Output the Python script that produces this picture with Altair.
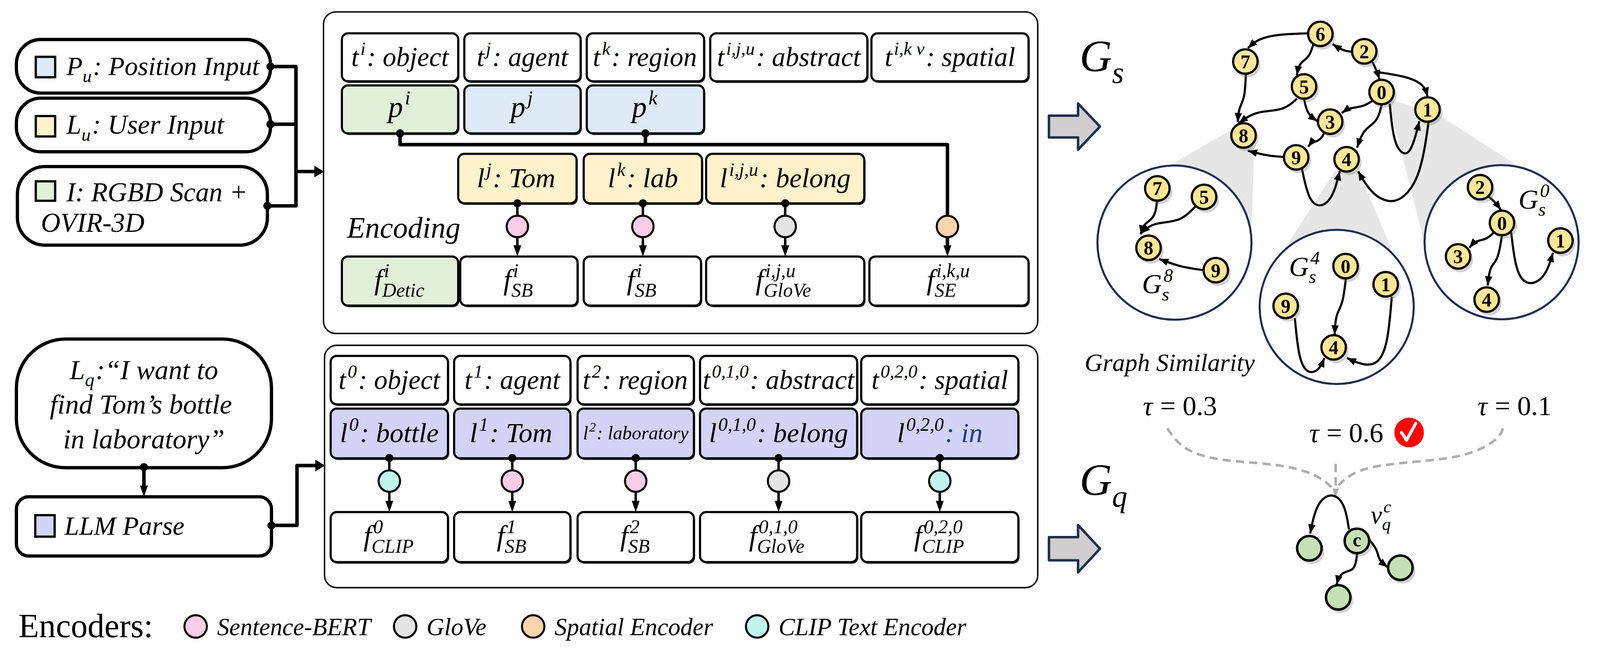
import altair as alt
import numpy as np
import pandas as pd

K = 4207 / 1568          # one layout unit -> screen pixels
FONT = "Liberation Serif"

# ---------------- labels and values ----------------
input_labels = ["P_{u}: Position Input", "L_{u}: User Input", "I: RGBD Scan +", "OVIR-3D"]
input_colors = ["#deebf7", "#fff2cc", "#e2f0d9"]
query_text = ["L_{q}:“I want to", "find Tom’s bottle", "in laboratory”"]
parse_label = "LLM Parse"
parse_color = "#d3d3f8"

user_types = ["t^{i}: object", "t^{j}: agent", "t^{k}: region", "t^{i,j,u}: abstract", "t^{i,k v}: spatial"]
user_pos = ["p^{i}", "p^{j}", "p^{k}"]
user_pos_fill = ["#e2f0d9", "#deebf7", "#deebf7"]
user_lang = ["l^{j}: Tom", "l^{k}: lab", "l^{i,j,u}: belong"]
user_lang_fill = "#fff2cc"
user_feat = ["f^{i}_{Detic}", "f^{i}_{SB}", "f^{i}_{SB}", "f^{i,j,u}_{GloVe}", "f^{i,k,u}_{SE}"]
user_feat_fill = ["#e2f0d9", "white", "white", "white", "white"]
user_enc = ["Sentence-BERT", "Sentence-BERT", "GloVe", "Spatial Encoder"]

query_types = ["t^{0}: object", "t^{1}: agent", "t^{2}: region", "t^{0,1,0}: abstract", "t^{0,2,0}: spatial"]
query_lang = ["l^{0}: bottle", "l^{1}: Tom", "l^{2}: laboratory", "l^{0,1,0}: belong", "l^{0,2,0}|: in"]
query_feat = ["f^{0}_{CLIP}", "f^{1}_{SB}", "f^{2}_{SB}", "f^{0,1,0}_{GloVe}", "f^{0,2,0}_{CLIP}"]
query_enc = ["CLIP Text Encoder", "Sentence-BERT", "Sentence-BERT", "GloVe", "CLIP Text Encoder"]

encoders = ["Sentence-BERT", "GloVe", "Spatial Encoder", "CLIP Text Encoder"]
encoder_colors = ["#f9cde5", "#e4e4e4", "#fbd4ae", "#c2f4ee"]
enc_color = dict(zip(encoders, encoder_colors))

scene_edges = [("6", "7"), ("2", "6"), ("6", "5"), ("2", "0"), ("2", "1"), ("7", "8"), ("5", "8"),
               ("5", "3"), ("0", "3"), ("0", "4"), ("0", "1"), ("3", "9"), ("9", "8"), ("9", "4"), ("1", "4")]
sub8_edges = [("7", "8"), ("5", "8"), ("9", "8")]
sub4_edges = [("0", "4"), ("9", "4"), ("1", "4")]
sub0_edges = [("2", "0"), ("0", "3"), ("0", "4"), ("0", "1")]
query_nodes = ["c", "a", "b", "d"]
query_node_text = ["c", "", "", ""]
query_edges = [("c", "a"), ("c", "b"), ("c", "d")]
tau_values = ["0.3", "0.6", "0.1"]
sub_names = ["G_{s}^{8}", "G_{s}^{4}", "G_{s}^{0}"]

# ---------------- layout (layout units, y grows downwards) ----------------
TOP_COLS = [(335, 449), (455, 569), (575, 690), (696, 850), (854, 1008)]
TOP_LCOLS = [(449, 565), (572, 688), (692, 847)]
TOP_FCOLS = [(335, 449), (451, 566), (572, 687), (692, 847), (852, 1008)]
TOP_ROWS = {"t": (24, 71), "p": (75, 122), "l": (142, 190.5), "f": (242.6, 290.7)}
BOT_COLS = [(324, 439), (445, 559), (566, 680), (686, 840), (844, 998)]
BOT_ROWS = {"t": (340, 387.5), "l": (391.6, 440.3), "f": (493, 542)}
ENC_Y_TOP, ENC_Y_BOT = 213.2, 462.6
TOP_ENC_X = [507, 630, 769.5, 928.5]

scene_pos = {"6": (1294, 24.5), "2": (1337, 41.6), "7": (1220.5, 51.6), "5": (1278, 76),
             "0": (1354, 81.5), "1": (1399, 98.6), "3": (1303.6, 110.5), "8": (1218.7, 124),
             "9": (1270.3, 145.5), "4": (1319.7, 147.4)}
scene_route = {
    ("6", "7"): [(1282, 24), (1250, 25), (1232, 30), (1223, 38.5)],
    ("2", "6"): [(1325, 42), (1316, 41), (1306, 34.5)],
    ("6", "5"): [(1287, 35), (1283, 48), (1273, 53), (1271, 65)],
    ("2", "0"): [(1345, 52), (1349, 60), (1352, 69)],
    ("2", "1"): [(1350, 62), (1378, 66), (1396, 74), (1399, 86)],
    ("7", "8"): [(1221, 63), (1220, 88), (1214, 97), (1213, 111)],
    ("5", "8"): [(1271, 88), (1258, 100), (1230, 100), (1214, 112)],
    ("5", "3"): [(1278, 88), (1281, 103), (1291, 110)],
    ("0", "3"): [(1345, 90), (1336, 96), (1322, 97), (1315, 102)],
    ("0", "4"): [(1354, 94), (1350, 111), (1336, 118), (1330, 136)],
    ("0", "1"): [(1362, 93), (1366, 135), (1379, 146), (1386, 130), (1391, 110)],
    ("3", "9"): [(1298, 121), (1294, 129), (1285, 131), (1282, 135)],
    ("9", "8"): [(1258, 145), (1242, 144), (1223, 139)],
    ("9", "4"): [(1276, 157), (1283, 190), (1296, 195), (1307, 183), (1313, 159)],
    ("1", "4"): [(1400, 111), (1392, 168), (1368, 194), (1344, 182), (1331, 159)],
}
sub8_pos = {"7": (1134.2, 175.9), "5": (1180, 184.2), "8": (1125.6, 234.1), "9": (1191.5, 256)}
sub8_route = {("7", "8"): [(1134, 188), (1132, 205), (1120, 211), (1118, 221)],
              ("5", "8"): [(1172, 193), (1157, 209), (1130, 209), (1118, 220)],
              ("9", "8"): [(1180, 256), (1157, 253), (1136, 245)]}
sub4_pos = {"0": (1318.7, 252), "1": (1358, 269.8), "9": (1260, 291), "4": (1307, 331.6)}
sub4_route = {("0", "4"): [(1319, 264), (1316, 290), (1309, 299), (1308, 319)],
              ("9", "4"): [(1269, 303), (1273, 345), (1282, 358), (1293, 354), (1298, 342)],
              ("1", "4"): [(1364, 282), (1360, 330), (1350, 349), (1335, 349), (1320, 342)]}
sub0_pos = {"2": (1450.5, 174.7), "0": (1472, 209.7), "1": (1529.3, 227), "3": (1429, 242.5), "4": (1457, 284.8)}
sub0_route = {("2", "0"): [(1459, 184), (1466, 190), (1471, 197)],
              ("0", "3"): [(1464, 219), (1457, 226), (1446, 227), (1440, 234)],
              ("0", "4"): [(1472, 222), (1468, 247), (1460, 252), (1458, 271)],
              ("0", "1"): [(1481, 219), (1486, 262), (1500, 272), (1515, 262), (1522, 239)]}
query_pos = {"c": (1329.8, 521.2), "a": (1283.2, 528.4), "b": (1311.5, 576.5), "d": (1372.4, 547.5)}
query_route = {("c", "a"): [(1322, 510), (1318, 484), (1305, 473), (1290, 484), (1284, 514)],
               ("c", "b"): [(1330, 534), (1328, 550), (1318, 551), (1312, 556), (1310, 564)],
               ("c", "d"): [(1342, 520), (1350, 530), (1351, 540), (1360, 547)]}
sub_centers = [(1151, 229), (1310, 292), (1471.6, 228.6)]
cones = [[(1208, 118), (1229, 136), (1226, 229), (1151, 229), (1146, 153.5), (1208, 118)],
         [(1311, 155), (1332, 161), (1364, 236), (1310, 292), (1259, 235), (1311, 155)],
         [(1360, 88), (1410, 104), (1494, 158), (1471, 229), (1396, 229), (1360, 88)]]

# ---------------- helpers ----------------
XS = alt.Scale(domain=[3, 1565], nice=False, zero=False)
YS = alt.Scale(domain=[3, 636], nice=False, zero=False, reverse=True)


def X():
    return alt.X("x:Q", scale=XS, axis=None)


def Y():
    return alt.Y("y:Q", scale=YS, axis=None)


CW = dict(zip("abcdefghijklmnopqrstuvwxyz",
              [.5, .5, .444, .5, .444, .278, .5, .5, .278, .278, .444, .278, .722, .5, .5, .5, .5, .389, .389,
               .278, .5, .444, .667, .444, .444, .389]))
CW.update(dict(zip("ABCDEFGHIJKLMNOPQRSTUVWXYZ",
                   [.611, .611, .667, .722, .611, .611, .722, .722, .333, .444, .667, .556, .833, .667, .722,
                    .611, .722, .611, .5, .556, .722, .611, .833, .611, .556, .556])))
CW.update({" ": .25, ":": .333, ",": .25, ".": .25, "+": .675, "-": .333, "“": .556, "”": .556,
           "’": .333, "=": .675, "τ": .45})


def tw(s, size):
    return sum(CW.get(c, .5) for c in s) * size


def parse(lbl):
    segs, buf, i, alt_col = [], "", 0, False
    while i < len(lbl):
        c = lbl[i]
        if c in "^_" and i + 1 < len(lbl) and lbl[i + 1] == "{":
            if buf:
                segs.append(("n", buf, alt_col))
                buf = ""
            j = lbl.index("}", i)
            segs.append(("sup" if c == "^" else "sub", lbl[i + 2:j], alt_col))
            i = j + 1
        elif c == "|":
            if buf:
                segs.append(("n", buf, alt_col))
                buf = ""
            alt_col = True
            i += 1
        else:
            buf += c
            i += 1
    if buf:
        segs.append(("n", buf, alt_col))
    return segs


def rich(lbl, x, yc, size, anchor="middle", color="black", color2="#1f3c88"):
    segs = parse(lbl)
    small = size * 0.68
    items, cur, k = [], 0.0, 0
    while k < len(segs):
        kind, t, a = segs[k]
        if kind == "n":
            items.append((cur, 0, t, size, a))
            cur += tw(t, size)
            k += 1
        else:
            group = [segs[k]]
            if k + 1 < len(segs) and segs[k + 1][0] in ("sup", "sub") and segs[k + 1][0] != kind:
                group.append(segs[k + 1])
            adv = 0
            for gk, gt, ga in group:
                off = -0.42 * size if gk == "sup" else 0.26 * size
                shift = 0.06 * size if gk == "sup" else 0.0
                items.append((cur + shift, off, gt, small, ga))
                adv = max(adv, tw(gt, small) + shift)
            cur += adv + 0.05 * size
            k += len(group)
    x0 = x - cur / 2 if anchor == "middle" else x
    base = yc + 0.32 * size
    return [dict(x=x0 + dx, y=base + dy, text=t, size=s * K,
                 color=color2 if a else color) for dx, dy, t, s, a in items]


def rects(rows, radius, sw):
    df = pd.DataFrame(rows, columns=["x", "x2", "y", "y2", "fill"])
    return alt.Chart(df).mark_rect(cornerRadius=radius * K, stroke="black", strokeWidth=sw * K).encode(
        x=X(), x2="x2:Q", y=Y(), y2="y2:Q", color=alt.Color("fill:N", scale=None))


def lines(paths, width, color="black", interp="linear", dash=None, fill=None, cap="round"):
    recs = [dict(id=str(k), i=j, x=p[0], y=p[1]) for k, pts in enumerate(paths) for j, p in enumerate(pts)]
    kw = dict(strokeWidth=width * K, color=color, interpolate=interp, strokeCap=cap, strokeJoin="round")
    if dash:
        kw["strokeDash"] = [d * K for d in dash]
    if fill:
        kw["fill"] = fill
    return alt.Chart(pd.DataFrame(recs)).mark_line(**kw).encode(
        x=X(), y=Y(), detail="id:N", order="i:Q")


def discs(rows, diam, stroke=None, sw=0.0, opacity=1.0):
    df = pd.DataFrame(rows, columns=["x", "y", "fill"])
    kw = dict(shape="circle", filled=True, size=(diam * K) ** 2, opacity=opacity)
    if stroke:
        kw.update(stroke=stroke, strokeWidth=sw * K, strokeOpacity=1)
    return alt.Chart(df).mark_point(**kw).encode(x=X(), y=Y(), color=alt.Color("fill:N", scale=None))


def bearing(p, q):
    return float(np.degrees(np.arctan2(q[0] - p[0], -(q[1] - p[1]))) % 360)


def heads(rows, length, ratio, color="black"):
    df = pd.DataFrame(rows, columns=["x", "y", "ang"])
    return alt.Chart(df).mark_point(shape=f"M0,0L{ratio},2L-{ratio},2Z", filled=True, opacity=1,
                                    size=(length * K) ** 2, color=color).encode(
        x=X(), y=Y(), angle=alt.Angle("ang:Q", scale=None))


def texts(rows, style, weight="normal"):
    df = pd.DataFrame(rows)
    return alt.Chart(df).mark_text(font=FONT, fontStyle=style, fontWeight=weight, align="left",
                                   baseline="alphabetic").encode(
        x=X(), y=Y(), text="text:N", size=alt.Size("size:Q", scale=None),
        color=alt.Color("color:N", scale=None))


def mid(c):
    return (c[0] + c[1]) / 2


# ---------------- build rows ----------------
panel_rows = [(317, 1017, 3, 318, "white"), (318, 1017, 329.6, 567, "white")]
pill_rows = [(16, 265, 30, 82.5, "white"), (16, 265, 87.5, 140, "white")]
square_rows = [(35, 54, 47, 67, input_colors[0]), (35, 54, 105, 125, input_colors[1]),
               (35, 54, 169, 188, input_colors[2]), (34.5, 53.5, 496, 517, parse_color)]

box_rows = []
for c in TOP_COLS:
    box_rows.append((c[0], c[1], *TOP_ROWS["t"], "white"))
for c, f in zip(TOP_COLS[:3], user_pos_fill):
    box_rows.append((c[0], c[1], *TOP_ROWS["p"], f))
for c in TOP_LCOLS:
    box_rows.append((c[0], c[1], *TOP_ROWS["l"], user_lang_fill))
for c, f in zip(TOP_FCOLS, user_feat_fill):
    box_rows.append((c[0], c[1], *TOP_ROWS["f"], f))
for c in BOT_COLS:
    box_rows.append((c[0], c[1], *BOT_ROWS["t"], "white"))
    box_rows.append((c[0], c[1], *BOT_ROWS["l"], parse_color))
    box_rows.append((c[0], c[1], *BOT_ROWS["f"], "white"))
shadow_rows = [(r[0] + 1.2, r[1] + 1.2, r[2] + 1.6, r[3] + 1.6, "#3a3a3a") for r in box_rows]

bus = [[(265, 56.5), (290, 56.5), (290, 193), (262, 193)], [(265, 113), (290, 113)],
       [(290, 159.4), (312, 159.4)], [(392, 122), (392, 133), (928.5, 133), (928.5, 236)],
       [(632.5, 122), (632.5, 133)], [(141, 449), (141, 472)],
       [(266, 506), (291, 506), (291, 447.4), (312, 447.4)]]
enc_lines = [[(x, 190.5), (x, 237)] for x in TOP_ENC_X[:3]]
enc_lines += [[(mid(c), 440), (mid(c), 487)] for c in BOT_COLS]
big_heads = [(317.5, 159.4, 90), (318.5, 447.4, 90)]
enc_heads = [(x, 242.6, 180) for x in TOP_ENC_X] + [(mid(c), 493, 180) for c in BOT_COLS] + [(141, 478, 180)]

dot_rows = [(265, 56.5, "black"), (265, 113, "black"), (262, 193, "black"), (392, 122, "black"),
            (632.5, 122, "black"), (141, 449, "black"), (266, 506, "black")]
dot_rows += [(x, 190.5, "black") for x in TOP_ENC_X[:3]] + [(mid(c), 440, "black") for c in BOT_COLS]

enc_rows = [(x, ENC_Y_TOP, enc_color[e]) for x, e in zip(TOP_ENC_X, user_enc)]
enc_rows += [(mid(c), ENC_Y_BOT, enc_color[e]) for c, e in zip(BOT_COLS, query_enc)]
legend_x = [191.7, 397, 522.5, 742]
legend_rows = [(x, 605, c) for x, c in zip(legend_x, encoder_colors)]

# graph edges
edge_paths, edge_heads = [], []
for route, elist in [(scene_route, scene_edges), (sub8_route, sub8_edges), (sub4_route, sub4_edges),
                     (sub0_route, sub0_edges), (query_route, query_edges)]:
    for e in elist:
        pts = route[e]
        edge_paths.append(pts)
        edge_heads.append((pts[-1][0], pts[-1][1], bearing(pts[-2], pts[-1])))

node_rows, bold_rows = [], []
for pos in [scene_pos, sub8_pos, sub4_pos, sub0_pos]:
    for n, (x, y) in pos.items():
        node_rows.append((x, y, "#ffe699"))
        bold_rows += rich(n, x, y + 0.6, 19)
q_rows = []
for n, t in zip(query_nodes, query_node_text):
    x, y = query_pos[n]
    q_rows.append((x, y, "#c5e0b4"))
    if t:
        bold_rows += rich(t, x, y - 0.5, 19)
shadow_nodes = [(x + 2.2, y + 3, "#7f7f7f") for x, y, _ in node_rows + q_rows]

dashed = [[(1144, 411), (1157, 430), (1185, 441), (1221, 444), (1264, 447.6), (1293, 457.6), (1307, 470), (1309, 476)],
          [(1473, 411), (1468, 423), (1436, 439.4), (1382, 444), (1339, 448.5), (1318, 459.4), (1309, 470), (1309, 476)],
          [(1309, 445.8), (1309, 476)]]
block_arrows = [[(1028, 104.6), (1056.5, 104.6), (1056.5, 92.7), (1078, 115.3), (1056.5, 137.9),
                 (1056.5, 126), (1028, 126), (1028, 104.6)],
                [(1028, 517.5), (1056.5, 517.5), (1056.5, 505.7), (1078, 528.8), (1056.5, 552),
                 (1056.5, 540.2), (1028, 540.2), (1028, 517.5)]]

# texts
it_rows, rm_rows = [], []
it_rows += rich(input_labels[0], 65, 56.5, 26, anchor="left")
it_rows += rich(input_labels[1], 65, 114, 26.5, anchor="left")
it_rows += rich(input_labels[2], 65, 180, 26.5, anchor="left")
it_rows += rich(input_labels[3], 40, 210, 26.5, anchor="left")
for t, yc in zip(query_text, [354, 388, 422]):
    it_rows += rich(t, 141, yc, 27)
it_rows += rich(parse_label, 63, 507, 26, anchor="left")
for c, t in zip(TOP_COLS, user_types):
    it_rows += rich(t, mid(c), mid(TOP_ROWS["t"]), 26.5)
for c, t in zip(TOP_COLS, user_pos):
    it_rows += rich(t, mid(c), mid(TOP_ROWS["p"]) - 2, 29)
for c, t in zip(TOP_LCOLS, user_lang):
    it_rows += rich(t, mid(c), mid(TOP_ROWS["l"]), 27)
for c, t in zip(TOP_FCOLS, user_feat):
    it_rows += rich(t, mid(c), mid(TOP_ROWS["f"]) - 1, 28)
it_rows += rich("Encoding", 340, 215, 29, anchor="left")
for c, t in zip(BOT_COLS, query_types):
    it_rows += rich(t, mid(c), mid(BOT_ROWS["t"]), 26.5)
for c, t in zip(BOT_COLS, query_lang):
    it_rows += rich(t, mid(c), mid(BOT_ROWS["l"]), 18.5 if "laboratory" in t else 27)
for c, t in zip(BOT_COLS, query_feat):
    it_rows += rich(t, mid(c), mid(BOT_ROWS["f"]) - 1, 28)
rm_rows += rich("Encoders:", 18, 605, 33, anchor="left")
for x, t in zip(legend_x, encoders):
    it_rows += rich(t, x + 21, 606, 24, anchor="left")
it_rows += rich("G_{s}", 1058, 47, 44, anchor="left")
it_rows += rich("G_{q}", 1058, 462, 44, anchor="left")
for t, (x, y) in zip(sub_names, [(1135, 270), (1279, 253), (1504, 187)]):
    it_rows += rich(t, x, y, 27)
it_rows += rich("v_{q}^{c}", 1354, 496, 25)
it_rows += rich("Graph Similarity", 1063, 347, 24.5, anchor="left")
for v, x, y in zip(tau_values, [1120, 1283, 1448], [389.5, 415.8, 389.5]):
    it_rows += rich("τ", x, y, 27, anchor="left")
    rm_rows += rich("= " + v, x + 17, y, 27, anchor="left")

# ---------------- layers ----------------
layers = [
    lines(cones, 0.1, color="#e7e6e6", fill="#e7e6e6"),
    rects(panel_rows, 12, 1.4),
    rects(pill_rows, 24, 3.2),
    rects([(17, 262, 154.5, 231.5, "white")], 27, 3.2),
    rects([(16, 266, 323.5, 449.5, "white")], 48, 3.2),
    rects([(16, 266, 478, 536, "white")], 12, 3.2),
    rects(square_rows, 0, 2.2),
    rects(shadow_rows, 6, 0.01),
    rects(box_rows, 6, 2.1),
    lines(bus, 3.4),
    lines(enc_lines, 2.4),
    lines(dashed, 2.5, color="#b0adad", interp="basis", dash=[8, 5], cap="butt"),
    heads([(1309, 478, 180)], 8, 0.8, color="#b0adad"),
    discs([(x, y, "white") for x, y in sub_centers], 151, stroke="#1f2d4e", sw=2.0),
    lines(edge_paths, 2.1, interp="basis", cap="butt"),
    heads(edge_heads, 9, 0.8),
    heads(big_heads, 9.5, 1.2),
    heads(enc_heads, 11, 0.7),
    discs(enc_rows, 21, stroke="black", sw=2.0),
    discs(legend_rows, 22, stroke="black", sw=2.0),
    discs(dot_rows, 8),
    discs(shadow_nodes, 25, opacity=0.35),
    discs(node_rows, 24, stroke="black", sw=2.2),
    discs(q_rows, 24, stroke="black", sw=2.4),
    lines(block_arrows, 2.4, color="#1f2d4e", fill="#d0cece"),
    discs([(1381, 415, "#ff0000")], 29),
    lines([[(1373.5, 415), (1378.5, 422.5), (1387.5, 406)]], 3.0, color="white"),
    texts(it_rows, "italic"),
    texts(rm_rows, "normal"),
    texts(bold_rows, "normal", weight="bold"),
]

chart = alt.layer(*layers).properties(
    width=round(1562 * K), height=round(633 * K), padding=0,
    autosize=alt.AutoSizeParams(type="none"),
).configure_view(stroke=None)

chart.save("out.html", embed_options={"renderer": "svg", "actions": False})
